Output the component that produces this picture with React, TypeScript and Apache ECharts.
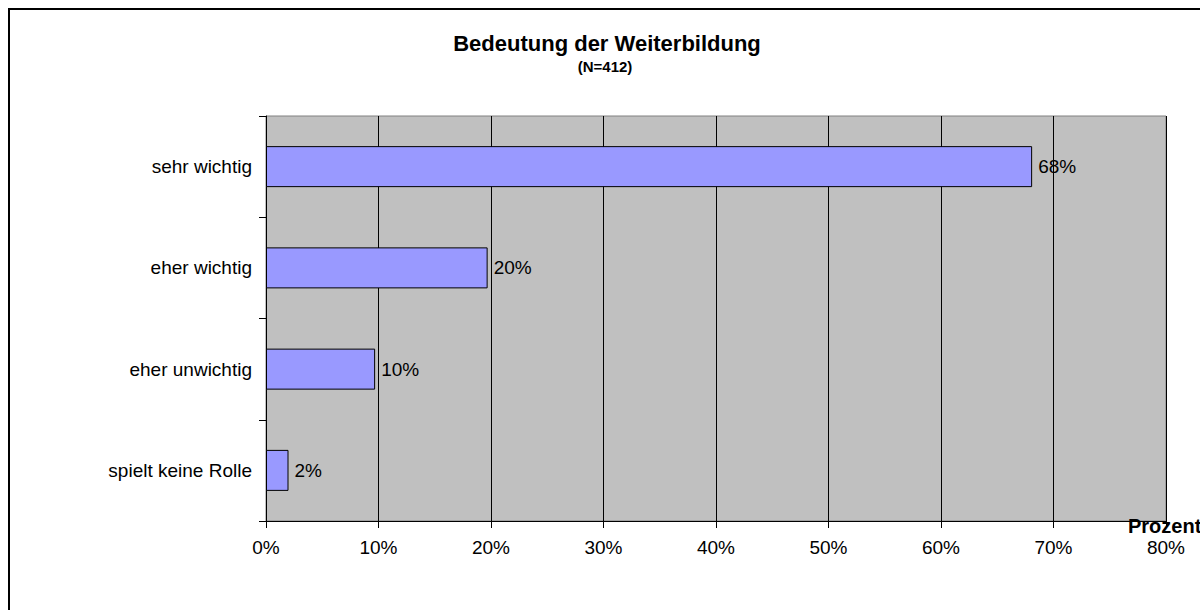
import React, { useEffect, useRef } from "react";
import * as echarts from "echarts";

const categories = ["sehr wichtig", "eher wichtig", "eher unwichtig", "spielt keine Rolle"];
const values = [68.1, 19.7, 9.7, 2.0];
const xTicks = { min: 0, max: 80, interval: 10 };
const titleText = "Bedeutung der Weiterbildung";
const subtitleText = "(N=412)";
const axisName = "Prozent";

const FONT = "'Liberation Sans', Arial, sans-serif";

export default function App() {
  const ref = useRef<HTMLDivElement>(null);
  useEffect(() => {
    if (!ref.current) return;
    const chart = echarts.init(ref.current, null, { renderer: "svg" });
    chart.setOption({
      animation: false,
      backgroundColor: "#ffffff",
      textStyle: { fontFamily: FONT },
      grid: {
        left: 266,
        right: 34,
        top: 116,
        bottom: 89,
        show: true,
        backgroundColor: "#c0c0c0",
        borderColor: "#808080",
        borderWidth: 1,
      },
      xAxis: {
        type: "value",
        min: xTicks.min,
        max: xTicks.max,
        interval: xTicks.interval,
        axisLine: { show: true, lineStyle: { color: "#000", width: 1 } },
        axisTick: { show: true, length: 7, lineStyle: { color: "#000" } },
        axisLabel: {
          formatter: "{value}%",
          color: "#000",
          fontSize: 19,
          fontFamily: FONT,
          margin: 17,
        },
        splitLine: { show: true, lineStyle: { color: "#000", width: 1 } },
      },
      yAxis: {
        type: "category",
        inverse: true,
        data: categories,
        axisLine: { show: true, lineStyle: { color: "#000", width: 1 } },
        axisTick: { show: true, length: 7, alignWithLabel: false, lineStyle: { color: "#000" } },
        axisLabel: { color: "#000", fontSize: 19, fontFamily: FONT, margin: 14 },
        splitLine: { show: false },
      },
      series: [
        {
          type: "bar",
          data: values,
          barWidth: 41,
          itemStyle: { color: "#9999ff", borderColor: "#000", borderWidth: 1 },
          label: {
            show: true,
            position: "right",
            distance: 6,
            color: "#000",
            fontSize: 19,
            fontFamily: FONT,
            formatter: (p: any) => Math.round(p.value) + "%",
          },
        },
      ],
      graphic: [
        {
          type: "rect",
          shape: { x: 9, y: 9, width: 1300, height: 700 },
          style: { fill: "none", stroke: "#000", lineWidth: 2 },
          silent: true,
          z: 100,
        },
        {
          type: "text",
          x: 607,
          y: 43,
          style: {
            text: titleText,
            font: `bold 22px ${FONT}`,
            fill: "#000",
            textAlign: "center",
            textVerticalAlign: "middle",
          },
        },
        {
          type: "text",
          x: 605,
          y: 66,
          style: {
            text: subtitleText,
            font: `bold 15px ${FONT}`,
            fill: "#000",
            textAlign: "center",
            textVerticalAlign: "middle",
          },
        },
        {
          type: "text",
          x: 1128,
          y: 526,
          style: {
            text: axisName,
            font: `bold 20px ${FONT}`,
            fill: "#000",
            textAlign: "left",
            textVerticalAlign: "middle",
          },
          z: 50,
        },
      ],
    });
    return () => chart.dispose();
  }, []);
  return (
    <div
      ref={ref}
      style={{ position: "absolute", left: 0, top: 0, width: 1200, height: 610 }}
    />
  );
}
